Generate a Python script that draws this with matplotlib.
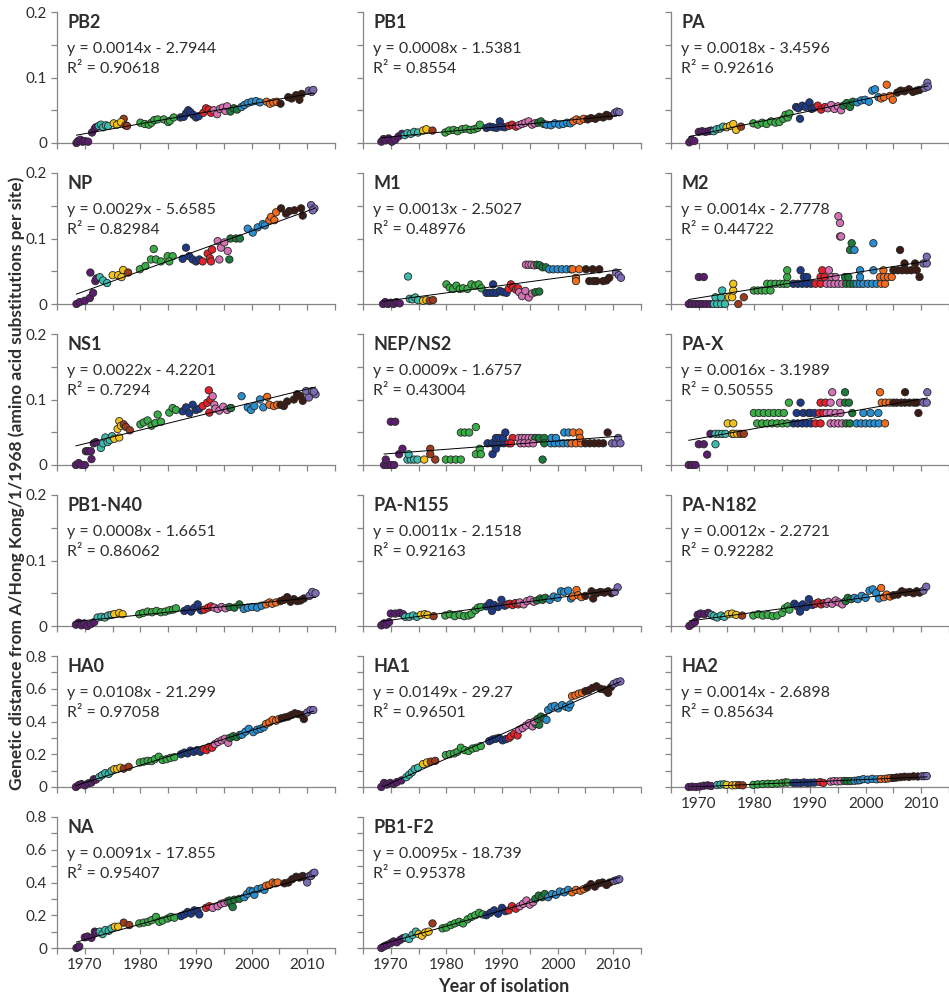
"""
Genetic distance from A/Hong Kong/1/1968 per protein, by year of isolation
17 small scatter panels with a linear trendline each
"""

import numpy as np
import matplotlib
matplotlib.use('Agg')
import matplotlib.pyplot as plt
from matplotlib.ticker import MultipleLocator, FuncFormatter

plt.rcParams['font.family'] = ['Lato', 'DejaVu Sans']

# antigenic cluster colours, keyed by the year the cluster starts
cluster_start = [0, 1972.3, 1975.0, 1977.0, 1978.5, 1987.0, 1991.0, 1993.0,
                 1996.0, 1998.0, 2002.5, 2005.0, 2009.8]
cluster_color = ['#5b1e6e', '#3cbcae', '#f3c21a', '#9c3b1e', '#3aad48', '#1e3a87',
                 '#e3232b', '#d372b5', '#1c7a3a', '#2a8fd1', '#f26c1e', '#3a1c14',
                 '#7d6bb6']

panel_names = ['PB2', 'PB1', 'PA', 'NP', 'M1', 'M2', 'NS1', 'NEP/NS2', 'PA-X',
               'PB1-N40', 'PA-N155', 'PA-N182', 'HA0', 'HA1', 'HA2', 'NA', 'PB1-F2']
panel_eq = ['y = 0.0014x - 2.7944', 'y = 0.0008x - 1.5381', 'y = 0.0018x - 3.4596',
            'y = 0.0029x - 5.6585', 'y = 0.0013x - 2.5027', 'y = 0.0014x - 2.7778',
            'y = 0.0022x - 4.2201', 'y = 0.0009x - 1.6757', 'y = 0.0016x - 3.1989',
            'y = 0.0008x - 1.6651', 'y = 0.0011x - 2.1518', 'y = 0.0012x - 2.2721',
            'y = 0.0108x - 21.299', 'y = 0.0149x - 29.27', 'y = 0.0014x - 2.6898',
            'y = 0.0091x - 17.855', 'y = 0.0095x - 18.739']
panel_r2 = ['0.90618', '0.8554', '0.92616', '0.82984', '0.48976', '0.44722',
            '0.7294', '0.43004', '0.50555', '0.86062', '0.92163', '0.92282',
            '0.97058', '0.96501', '0.85634', '0.95407', '0.95378']
panel_ymax = [0.2] * 12 + [0.8] * 5

# --- values ---
pb2_year = [1968.5, 1968.8, 1969.2, 1969.6, 1970.0, 1970.6, 1971.3, 1971.8, 1972.0,
            1972.5, 1972.9, 1973.3, 1973.8, 1974.2,
            1975.2, 1975.8, 1977.0, 1976.5, 1977.3, 1977.6,
            1980.0, 1980.8, 1981.5, 1982.0, 1982.5, 1983.1, 1984.2, 1985.0, 1985.3, 1986.0,
            1987.2, 1987.8, 1988.2, 1988.6, 1989.0, 1989.5, 1990.0, 1990.5,
            1991.3, 1991.8, 1992.3, 1992.7,
            1993.2, 1993.8, 1994.3, 1994.8, 1995.3, 1995.6,
            1996.2, 1996.8, 1997.4,
            1998.2, 1998.7, 1999.3, 2000.0, 2000.8, 2001.5,
            2002.7, 2003.3, 2003.9, 2004.5,
            2005.2, 2006.6, 2007.2, 2008.0, 2008.6, 2009.0,
            2010.3, 2010.8, 2011.1]
pb2_dist = [0.000, 0.003, 0.005, 0.002, 0.003, 0.002, 0.016, 0.022, 0.024,
            0.026, 0.028, 0.024, 0.027, 0.026,
            0.030, 0.028, 0.037, 0.032, 0.027, 0.026,
            0.031, 0.029, 0.028, 0.031, 0.035, 0.036, 0.036, 0.032, 0.034, 0.039,
            0.039, 0.040, 0.045, 0.050, 0.047, 0.043, 0.039, 0.041,
            0.046, 0.053, 0.051, 0.046,
            0.050, 0.044, 0.052, 0.054, 0.049, 0.056,
            0.048, 0.053, 0.051,
            0.055, 0.058, 0.061, 0.063, 0.064, 0.062,
            0.063, 0.060, 0.062, 0.063,
            0.060, 0.070, 0.068, 0.073, 0.066, 0.075,
            0.080, 0.078, 0.081]

pb1_year = [1968.3, 1968.7, 1969.1, 1969.6, 1970.2, 1970.8, 1971.4, 1972.0,
            1972.5, 1973.0, 1973.6, 1974.2, 1974.9,
            1975.8, 1976.4, 1977.5,
            1979.8, 1980.5, 1981.3, 1982.0, 1982.8, 1983.5, 1984.3, 1985.0, 1985.6, 1986.0,
            1987.2, 1987.8, 1988.4, 1989.0, 1989.6, 1989.9, 1990.5,
            1991.2, 1991.8, 1992.5, 1993.0,
            1993.6, 1994.2, 1994.8, 1995.4, 1995.9,
            1996.5, 1997.0, 1997.5,
            1998.0, 1998.8, 1999.5, 2000.3, 2001.0, 2001.7, 2002.3,
            2002.8, 2003.4, 2004.0, 2004.7,
            2005.4, 2006.0, 2006.8, 2007.5, 2008.2, 2008.8, 2009.3,
            2010.3, 2010.7, 2011.1]
pb1_dist = [0.002, 0.006, 0.004, 0.007, 0.002, 0.005, 0.010, 0.014,
            0.012, 0.015, 0.014, 0.017, 0.016,
            0.019, 0.021, 0.019,
            0.016, 0.019, 0.020, 0.018, 0.021, 0.022, 0.020, 0.021, 0.023, 0.028,
            0.023, 0.025, 0.024, 0.023, 0.033, 0.025, 0.024,
            0.026, 0.028, 0.025, 0.027,
            0.029, 0.031, 0.033, 0.028, 0.030,
            0.031, 0.033, 0.029,
            0.028, 0.027, 0.030, 0.028, 0.029, 0.031, 0.030,
            0.033, 0.036, 0.034, 0.037,
            0.036, 0.038, 0.037, 0.040, 0.039, 0.043, 0.041,
            0.046, 0.048, 0.047]

pa_year = [1968.3, 1968.7, 1969.2, 1970.0, 1970.6, 1971.2, 1971.8, 1972.2,
           1972.7, 1973.2, 1973.8, 1974.4, 1975.0,
           1975.6, 1976.2, 1976.7, 1977.6,
           1979.8, 1980.6, 1981.4, 1982.2, 1983.0, 1983.8, 1984.5, 1985.2, 1985.6, 1986.0, 1986.3,
           1987.5, 1987.9, 1988.2, 1988.6, 1989.2, 1989.9, 1990.3,
           1990.8, 1991.4, 1992.0, 1992.7,
           1993.2, 1993.8, 1994.4, 1995.0, 1995.6,
           1996.0, 1996.6, 1997.2, 1997.7,
           1998.5, 1999.2, 1999.9, 2000.6, 2001.2, 2001.7, 2002.3,
           2002.8, 2003.3, 2003.8, 2004.4, 2004.9,
           2005.7, 2006.3, 2007.0, 2007.8, 2008.5, 2009.2, 2009.7,
           2010.6, 2011.1, 2011.2]
pa_dist = [0.001, 0.005, 0.003, 0.017, 0.018, 0.017, 0.018, 0.019,
           0.018, 0.021, 0.022, 0.025, 0.024,
           0.026, 0.029, 0.020, 0.025,
           0.030, 0.028, 0.031, 0.029, 0.033, 0.031, 0.032, 0.037, 0.043, 0.039, 0.045,
           0.055, 0.053, 0.037, 0.057, 0.055, 0.062, 0.052,
           0.054, 0.057, 0.051, 0.055,
           0.053, 0.058, 0.052, 0.056, 0.050,
           0.057, 0.061, 0.055, 0.063,
           0.062, 0.065, 0.066, 0.063, 0.080, 0.082, 0.070,
           0.068, 0.070, 0.089, 0.072, 0.066,
           0.077, 0.080, 0.079, 0.082, 0.078, 0.080, 0.081,
           0.084, 0.092, 0.086]

np_year = [1968.5, 1969.1, 1970.0, 1970.9, 1971.5, 1971.0, 1971.9, 1972.1,
           1972.7, 1973.3, 1974.0, 1975.0,
           1976.0, 1976.9, 1976.6,
           1977.8,
           1979.9, 1980.9, 1982.4, 1981.9, 1982.8, 1983.7, 1984.9, 1985.8, 1985.2,
           1987.6, 1988.2, 1988.8, 1989.4, 1990.0, 1990.6,
           1991.2, 1992.1, 1992.5, 1992.9,
           1992.7, 1993.9, 1994.5, 1995.1, 1995.7, 1994.2,
           1996.0, 1996.2, 1997.2, 1997.9,
           1999.3, 2000.2, 2001.1, 2002.0, 2002.4,
           2003.2, 2003.5, 2004.1, 2004.4,
           2005.3, 2006.2, 2006.8, 2007.7, 2008.9, 2009.2,
           2010.7, 2011.3, 2011.0]
np_dist = [0.000, 0.003, 0.005, 0.009, 0.017, 0.048, 0.035, 0.039,
           0.041, 0.036, 0.032, 0.044,
           0.044, 0.052, 0.041,
           0.048,
           0.053, 0.058, 0.084, 0.068, 0.068, 0.065, 0.073, 0.073, 0.065,
           0.069, 0.086, 0.073, 0.068, 0.065, 0.068,
           0.065, 0.077, 0.070, 0.083,
           0.065, 0.096, 0.086, 0.094, 0.081, 0.068,
           0.068, 0.100, 0.100, 0.100,
           0.115, 0.109, 0.117, 0.122, 0.120,
           0.128, 0.133, 0.128, 0.140,
           0.146, 0.138, 0.142, 0.143, 0.146, 0.135,
           0.151, 0.146, 0.143]

m1_year = [1968.6, 1969.0, 1969.5, 1970.0, 1970.5, 1971.0, 1971.6,
           1973.1, 1973.4, 1973.9, 1974.4, 1974.9,
           1975.8, 1976.4, 1977.0, 1977.6,
           1980.0, 1980.6, 1981.2, 1981.8, 1982.4, 1983.0, 1983.8, 1984.5, 1985.2, 1985.8, 1986.3,
           1987.2, 1987.8, 1988.4, 1988.4, 1989.0, 1989.6, 1990.2, 1990.8,
           1991.2, 1991.6, 1992.0, 1992.5, 1992.9,
           1993.1, 1993.6, 1994.2, 1994.8, 1995.4, 1996.0, 1996.7,
           1994.3, 1994.8, 1995.3, 1995.8, 1996.3, 1996.8,
           1997.3, 1997.9,
           1998.5, 1999.2, 2000.0, 2000.8, 2001.6, 2002.4,
           2002.7, 2003.3, 2003.3, 2003.9,
           2005.1, 2005.7, 2006.3, 2006.5, 2007.0, 2007.5, 2008.2, 2008.8, 2009.3,
           2010.5, 2011.0, 2011.4]
m1_dist = [0.000, 0.003, 0.000, 0.002, 0.000, 0.003, 0.001,
           0.042, 0.008, 0.007, 0.010, 0.006,
           0.005, 0.006, 0.005, 0.006,
           0.030, 0.025, 0.023, 0.028, 0.023, 0.024, 0.023, 0.030, 0.028, 0.030, 0.024,
           0.017, 0.017, 0.030, 0.017, 0.017, 0.020, 0.018, 0.017,
           0.023, 0.030, 0.026, 0.022, 0.024,
           0.018, 0.012, 0.020, 0.010, 0.016, 0.018, 0.019,
           0.060, 0.060, 0.060, 0.059, 0.060, 0.059,
           0.056, 0.056,
           0.053, 0.053, 0.053, 0.053, 0.053, 0.053,
           0.053, 0.040, 0.035, 0.053,
           0.053, 0.035, 0.053, 0.035, 0.035, 0.053, 0.035, 0.036, 0.040,
           0.048, 0.044, 0.040]

m2_year = [1968.2, 1968.8, 1969.4, 1970.0, 1970.6, 1971.3, 1972.0, 1970.0, 1970.9,
           1972.7, 1973.3, 1974.0, 1974.7, 1973.0, 1974.0, 1974.2,
           1975.4, 1976.0, 1976.2, 1976.2, 1977.1,
           1978.1,
           1979.9, 1980.6, 1981.3, 1982.0, 1982.9, 1982.3, 1983.0, 1983.8, 1984.6, 1985.3,
           1985.9, 1985.9, 1985.9,
           1987.0, 1987.8, 1988.6, 1989.4, 1990.2, 1991.0, 1991.9, 1988.3, 1988.9, 1989.5,
           1992.2, 1991.9, 1992.6, 1993.0,
           1993.4, 1993.7, 1994.4, 1995.1, 1995.8, 1996.5, 1997.2, 1997.8, 1993.9, 1994.6,
           1995.4, 1995.4, 1995.6,
           1995.1, 1996.3, 1996.9, 1997.2, 1997.5, 1998.0,
           1998.4, 1999.0, 1999.6, 2000.4, 2001.2, 2002.0, 2002.8, 2003.5, 1999.0, 1999.0,
           2001.4, 2001.4, 2003.2,
           2002.6, 2003.3, 2004.0, 2004.7,
           2005.0, 2005.8, 2006.6, 2007.4, 2008.2, 2009.2, 2006.2, 2007.0, 2008.9, 2009.7,
           2010.4, 2011.0, 2011.0]
m2_dist = [0, 0, 0, 0, 0, 0, 0, 0.0412, 0.0412,
           0, 0, 0, 0, 0.0103, 0.0103, 0.0206,
           0.0103, 0.0103, 0.0206, 0.0309, 0,
           0.0103,
           0.0206, 0.0206, 0.0206, 0.0206, 0.0206, 0.0309, 0.0309, 0.0309, 0.0309, 0.0309,
           0.0309, 0.0412, 0.0515,
           0.0309, 0.0309, 0.0309, 0.0309, 0.0309, 0.0309, 0.0309, 0.0515, 0.0412, 0.0412,
           0.0515, 0.0412, 0.0412, 0.0309,
           0.0515, 0.0309, 0.0309, 0.0309, 0.0309, 0.0309, 0.0309, 0.0309, 0.0412, 0.0412,
           0.1237, 0.1031, 0.1031,
           0.134, 0.0412, 0.0412, 0.0825, 0.0928, 0.0825,
           0.0309, 0.0309, 0.0309, 0.0309, 0.0309, 0.0309, 0.0309, 0.0309, 0.0412, 0.0515,
           0.0928, 0.0515, 0.0515,
           0.0412, 0.0412, 0.0412, 0.0412,
           0.0515, 0.0515, 0.0515, 0.0515, 0.0515, 0.0515, 0.0825, 0.0619, 0.0619, 0.0412,
           0.0619, 0.0619, 0.0722]

ns1_year = [1968.4, 1968.9, 1969.4, 1970.0, 1970.2, 1971.2, 1970.6, 1971.1, 1971.6, 1972.0,
            1972.9, 1973.3, 1973.7, 1974.1, 1974.5, 1974.9, 1975.3,
            1975.9, 1976.2, 1976.5, 1977.0, 1977.4,
            1976.2, 1978.1,
            1980.0, 1980.6, 1981.3, 1982.0, 1982.7, 1983.1, 1983.7, 1985.2, 1985.8, 1986.4,
            1987.6, 1988.2, 1988.8, 1989.4, 1990.0, 1990.6, 1991.2,
            1992.0, 1992.3, 1992.6, 1993.0, 1993.3,
            1992.4, 1993.5, 1994.2, 1994.9, 1995.6, 1996.2,
            1996.3, 1998.2,
            1999.3, 1999.9, 2000.5, 2001.5, 2002.1, 2003.2, 2004.0,
            2002.8, 2004.6, 2005.2, 2005.8,
            2006.4, 2007.6, 2008.2, 2008.8, 2009.2, 2009.8, 2010.3,
            2010.9, 2011.5, 2011.2]
ns1_dist = [0.000, 0.003, 0.000, 0.000, 0.021, 0.009, 0.021, 0.021, 0.033, 0.035,
            0.026, 0.033, 0.042, 0.035, 0.038, 0.044, 0.040,
            0.055, 0.067, 0.060, 0.062, 0.058,
            0.042, 0.053,
            0.062, 0.065, 0.068, 0.060, 0.064, 0.077, 0.066, 0.080, 0.087, 0.084,
            0.082, 0.088, 0.079, 0.092, 0.084, 0.086, 0.090,
            0.095, 0.114, 0.100, 0.105, 0.092,
            0.080, 0.086, 0.083, 0.089, 0.084, 0.087,
            0.087, 0.105,
            0.088, 0.084, 0.090, 0.100, 0.088, 0.092, 0.090,
            0.104, 0.092, 0.092, 0.090,
            0.097, 0.100, 0.108, 0.105, 0.098, 0.113, 0.103,
            0.113, 0.108, 0.112]

nep_year = [1968.8, 1969.4, 1970.0, 1970.6, 1969.1, 1970.0, 1970.8, 1971.5, 1972.1,
            1973.0, 1973.6, 1974.2, 1974.8, 1973.2,
            1976.0, 1977.1, 1977.1,
            1978.0,
            1979.9, 1980.8, 1981.7, 1982.6, 1982.6, 1983.3, 1984.1, 1985.3, 1985.3, 1986.0, 1986.2,
            1987.4, 1988.3, 1988.2, 1989.0, 1989.6, 1990.3, 1988.9, 1989.5, 1990.2, 1988.9,
            1990.6, 1991.2, 1991.9, 1991.6,
            1993.0, 1993.6, 1994.2, 1994.8, 1995.4, 1996.0, 1996.7, 1993.3, 1994.0, 1994.8, 1995.6,
            1997.6, 1997.3, 1997.6,
            1998.8, 1999.5, 2000.3, 2001.0, 2001.8, 2002.5, 2001.2, 2002.0, 2002.8, 2003.9,
            1998.9, 1999.7,
            2003.3, 2004.2, 2004.0,
            2005.0, 2005.8, 2006.6, 2007.4, 2008.2, 2009.0, 2009.8,
            2010.4, 2010.9, 2011.3]
nep_dist = [0, 0, 0, 0, 0.0083, 0.0661, 0.0661, 0.0165, 0.0248,
            0.0083, 0.0083, 0.0083, 0.0083, 0.0165,
            0.0083, 0.0248, 0.0165,
            0.0083,
            0.0083, 0.0083, 0.0083, 0.0083, 0.0496, 0.0496, 0.0496, 0.0579, 0.0165, 0.0248, 0.0165,
            0.0331, 0.0165, 0.0331, 0.0331, 0.0331, 0.0331, 0.0413, 0.0413, 0.0413, 0.0248,
            0.0496, 0.0331, 0.0413, 0.0331,
            0.0413, 0.0413, 0.0413, 0.0413, 0.0413, 0.0413, 0.0413, 0.0331, 0.0331, 0.0331, 0.0331,
            0.0413, 0.0083, 0.0331,
            0.0331, 0.0331, 0.0331, 0.0331, 0.0331, 0.0331, 0.0496, 0.0496, 0.0496, 0.0496,
            0.0413, 0.0413,
            0.0331, 0.0331, 0.0413,
            0.0331, 0.0331, 0.0331, 0.0331, 0.0331, 0.0496, 0.0331,
            0.0331, 0.0413, 0.0331]

pax_year = [1968.2, 1968.8, 1969.4, 1970.0, 1970.9, 1971.5, 1972.1,
            1973.0, 1973.0, 1973.6, 1974.2, 1974.8, 1975.2, 1976.0,
            1976.2, 1976.3, 1976.9, 1977.5,
            1978.1,
            1979.9, 1980.8, 1981.7, 1982.6, 1983.5, 1984.4, 1985.3, 1980.5, 1981.4, 1982.3,
            1983.2, 1984.1, 1985.0, 1985.9, 1986.2,
            1987.0, 1987.8, 1988.6, 1989.4, 1990.2, 1991.0, 1991.9, 1988.3, 1987.6, 1988.8, 1989.8,
            1990.0, 1990.8, 1991.7, 1992.4, 1993.0, 1991.9, 1992.8, 1993.7,
            1994.0, 1995.4, 1993.7, 1994.4, 1995.1, 1995.8, 1996.5, 1993.7, 1994.6, 1995.5,
            1996.3, 1996.3, 1997.0, 1997.2, 1997.6,
            1998.4, 1999.2, 2000.0, 2000.8, 2001.6, 2002.4, 2003.5, 1999.6, 2000.9, 2002.3,
            2002.6, 2002.9, 2003.6, 2004.3, 2005.0,
            2005.6, 2006.4, 2007.1, 2007.1, 2007.9, 2008.7, 2009.2, 2009.5,
            2010.4, 2011.0, 2011.1]
pax_dist = [0, 0, 0, 0.0317, 0.0317, 0.0159, 0.0476,
            0.0317, 0.0476, 0.0476, 0.0476, 0.0476, 0.0635, 0.0476,
            0.0635, 0.0476, 0.0476, 0.0476,
            0.0476,
            0.0794, 0.0794, 0.0794, 0.0794, 0.0794, 0.0794, 0.0794, 0.0635, 0.0635, 0.0635,
            0.0635, 0.0635, 0.0635, 0.0635, 0.0952,
            0.0635, 0.0635, 0.0635, 0.0635, 0.0635, 0.0635, 0.0635, 0.0952, 0.0794, 0.0794, 0.0794,
            0.0794, 0.0794, 0.0794, 0.0794, 0.0794, 0.0952, 0.0952, 0.0952,
            0.1111, 0.0952, 0.0635, 0.0635, 0.0635, 0.0635, 0.0635, 0.0794, 0.0794, 0.0794,
            0.1111, 0.0952, 0.0952, 0.0635, 0.0794,
            0.0635, 0.0635, 0.0635, 0.0635, 0.0635, 0.0635, 0.0635, 0.0794, 0.0794, 0.0794,
            0.1111, 0.0952, 0.0952, 0.0952, 0.0952,
            0.0952, 0.0952, 0.1111, 0.0952, 0.0952, 0.0952, 0.0952, 0.0794,
            0.0952, 0.0952, 0.1111]

n40_year = [1968.4, 1968.9, 1969.4, 1969.9, 1970.5, 1971.1, 1971.7, 1972.3,
            1973.0, 1973.6, 1974.2, 1974.8, 1975.3,
            1976.2, 1976.8,
            1979.8, 1980.5, 1981.3, 1982.1, 1982.9, 1983.7, 1984.5, 1985.2, 1985.9, 1986.4,
            1987.9, 1988.5, 1989.1, 1989.7, 1990.3, 1990.9,
            1991.5, 1992.2, 1992.7,
            1993.3, 1993.9, 1994.6, 1995.3, 1996.0, 1996.9,
            1997.8,
            1998.6, 1999.3, 2000.1, 2001.0, 2001.8,
            2002.6, 2003.2, 2003.7, 2004.4, 2005.2,
            2005.8, 2006.4, 2007.0, 2007.6, 2008.2, 2008.8, 2009.4,
            2010.4, 2010.9, 2011.5]
n40_dist = [0.002, 0.005, 0.001, 0.004, 0.000, 0.003, 0.006, 0.013,
            0.014, 0.013, 0.016, 0.017, 0.018,
            0.020, 0.018,
            0.018, 0.020, 0.022, 0.021, 0.023, 0.021, 0.022, 0.024, 0.025, 0.027,
            0.023, 0.026, 0.022, 0.028, 0.033, 0.024,
            0.025, 0.028, 0.030,
            0.028, 0.026, 0.029, 0.027, 0.029, 0.028,
            0.033,
            0.026, 0.028, 0.029, 0.028, 0.031,
            0.033, 0.036, 0.034, 0.036, 0.038,
            0.040, 0.044, 0.037, 0.041, 0.038, 0.039, 0.042,
            0.046, 0.052, 0.050]

n155_year = [1968.3, 1968.8, 1969.2, 1969.7, 1970.0, 1970.8, 1971.6, 1972.2,
             1972.6, 1973.3, 1974.0, 1974.7, 1975.4,
             1976.1, 1976.6, 1977.7,
             1979.8, 1980.6, 1981.5, 1982.4, 1983.2, 1984.0, 1984.5, 1985.2, 1985.7, 1986.2,
             1987.2, 1987.8, 1988.2, 1988.6, 1989.3, 1989.9, 1990.5, 1991.0,
             1991.4, 1991.9, 1992.4, 1992.9,
             1993.2, 1993.9, 1994.5, 1995.1, 1995.7, 1996.3,
             1996.9, 1997.3, 1997.8,
             1998.6, 1999.3, 2000.0, 2000.6, 2001.2, 2001.9, 2002.4,
             2002.7, 2003.4, 2003.7, 2004.3, 2005.0,
             2006.1, 2006.4, 2007.0, 2007.7, 2008.4, 2009.1, 2009.7,
             2010.3, 2010.8]
n155_dist = [0.001, 0.004, 0.002, 0.006, 0.019, 0.019, 0.020, 0.018,
             0.014, 0.014, 0.016, 0.014, 0.017,
             0.018, 0.017, 0.015,
             0.016, 0.018, 0.015, 0.017, 0.015, 0.016, 0.018, 0.024, 0.028, 0.029,
             0.030, 0.035, 0.023, 0.032, 0.029, 0.040, 0.031, 0.033,
             0.034, 0.032, 0.035, 0.033,
             0.036, 0.033, 0.038, 0.040, 0.037, 0.039,
             0.042, 0.040, 0.043,
             0.040, 0.045, 0.043, 0.053, 0.052, 0.054, 0.042,
             0.045, 0.055, 0.047, 0.044, 0.046,
             0.053, 0.042, 0.050, 0.052, 0.051, 0.053, 0.050,
             0.052, 0.059]

n182_year = [1968.3, 1968.8, 1969.3, 1969.8, 1970.3, 1971.0, 1971.7, 1972.3,
             1972.7, 1973.3, 1974.0, 1974.6, 1975.3,
             1976.0, 1976.7, 1977.8,
             1979.8, 1980.7, 1981.5, 1982.4, 1983.3, 1984.1, 1985.0, 1985.5, 1986.0, 1986.3,
             1987.2, 1987.7, 1988.2, 1988.7, 1989.3, 1989.8, 1990.4, 1991.0,
             1991.5, 1992.0, 1992.5, 1993.0,
             1993.3, 1994.0, 1994.6, 1995.2, 1995.8, 1996.4,
             1996.8, 1997.4, 1998.0,
             1998.6, 1999.3, 2000.0, 2000.7, 2001.3, 2001.9, 2002.4,
             2002.8, 2003.3, 2003.8, 2004.4, 2005.0,
             2005.8, 2006.5, 2007.2, 2007.9, 2008.6, 2009.2, 2009.7,
             2010.4, 2010.9]
n182_dist = [0.000, 0.003, 0.006, 0.017, 0.019, 0.018, 0.020, 0.017,
             0.015, 0.013, 0.016, 0.014, 0.018,
             0.019, 0.017, 0.016,
             0.016, 0.018, 0.016, 0.017, 0.015, 0.016, 0.020, 0.027, 0.030, 0.025,
             0.034, 0.030, 0.022, 0.033, 0.029, 0.041, 0.032, 0.034,
             0.036, 0.033, 0.035, 0.034,
             0.037, 0.034, 0.039, 0.036, 0.033, 0.038,
             0.043, 0.041, 0.043,
             0.041, 0.046, 0.043, 0.054, 0.056, 0.050, 0.042,
             0.058, 0.044, 0.048, 0.045, 0.047,
             0.048, 0.053, 0.051, 0.052, 0.050, 0.053, 0.051,
             0.054, 0.060]

ha0_year = [1968.4, 1968.9, 1969.4, 1970.0, 1970.6, 1971.2, 1971.6, 1972.0,
            1972.6, 1973.1, 1973.7, 1974.3, 1974.8, 1975.3,
            1975.8, 1976.4, 1977.0,
            1977.9,
            1979.9, 1980.6, 1981.3, 1982.0, 1982.6, 1983.3, 1984.0, 1984.7, 1985.4, 1986.1,
            1987.3, 1987.9, 1988.5, 1989.0, 1989.6, 1990.2, 1990.8, 1991.4,
            1991.9, 1992.4, 1992.9,
            1993.4, 1994.0, 1994.6, 1995.2, 1995.8,
            1996.1, 1996.7, 1997.3, 1997.9,
            1998.3, 1998.9, 1999.5, 2000.3, 2001.0, 2001.6, 2002.2,
            2002.6, 2003.2, 2003.8, 2004.4, 2004.9,
            2005.4, 2006.0, 2006.6, 2007.2, 2007.8, 2008.4, 2009.0, 2009.4,
            2010.0, 2010.6, 2011.1]
ha0_dist = [0.000, 0.012, 0.018, 0.010, 0.022, 0.027, 0.047, 0.045,
            0.060, 0.072, 0.085, 0.080, 0.098, 0.109,
            0.110, 0.118, 0.112,
            0.123,
            0.150, 0.155, 0.160, 0.158, 0.170, 0.185, 0.165, 0.170, 0.178, 0.182,
            0.200, 0.210, 0.205, 0.222, 0.215, 0.225, 0.215, 0.230,
            0.225, 0.245, 0.240,
            0.262, 0.275, 0.285, 0.295, 0.270,
            0.300, 0.310, 0.305, 0.318,
            0.320, 0.338, 0.355, 0.335, 0.350, 0.355, 0.365,
            0.385, 0.395, 0.410, 0.405, 0.415,
            0.420, 0.425, 0.430, 0.440, 0.450, 0.445, 0.440, 0.415,
            0.455, 0.470, 0.470]

ha1_year = [1968.3, 1968.8, 1969.3, 1969.9, 1970.5, 1971.1, 1971.9,
            1972.8, 1973.3, 1973.8, 1974.3, 1974.9,
            1975.8, 1976.5, 1977.2,
            1978.0,
            1979.9, 1980.6, 1981.4, 1982.0, 1982.6, 1983.3, 1984.0, 1984.7, 1985.4, 1986.2,
            1987.7, 1988.3, 1988.9, 1989.5, 1990.1, 1990.7, 1991.3,
            1991.6, 1992.2, 1992.8,
            1993.1, 1993.7, 1994.3, 1994.9, 1995.5, 1996.1, 1996.7,
            1995.8, 1996.4, 1997.0, 1997.6, 1998.0,
            1998.3, 1998.9, 1999.5, 2000.1, 2000.8, 2001.5, 2002.0, 2002.3,
            2002.6, 2003.2, 2003.8, 2004.4,
            2005.0, 2005.6, 2006.3, 2007.0, 2007.7, 2008.4, 2009.1, 2009.6,
            2010.1, 2010.7, 2011.3]
ha1_dist = [0.000, 0.025, 0.015, 0.025, 0.018, 0.030, 0.040,
            0.060, 0.075, 0.090, 0.110, 0.118,
            0.140, 0.150, 0.155,
            0.160,
            0.195, 0.200, 0.205, 0.215, 0.240, 0.225, 0.220, 0.235, 0.240, 0.250,
            0.280, 0.290, 0.295, 0.300, 0.285, 0.292, 0.300,
            0.310, 0.325, 0.315,
            0.350, 0.360, 0.375, 0.390, 0.370, 0.385, 0.380,
            0.400, 0.415, 0.430, 0.420, 0.410,
            0.470, 0.490, 0.495, 0.480, 0.500, 0.490, 0.485, 0.505,
            0.555, 0.560, 0.570, 0.575,
            0.585, 0.590, 0.605, 0.615, 0.600, 0.595, 0.575, 0.610,
            0.630, 0.640, 0.645]

ha2_year = [1968.2, 1968.8, 1969.5, 1970.2, 1970.9, 1971.6, 1972.2,
            1973.3, 1973.9, 1974.5, 1975.0,
            1976.0, 1976.6, 1977.2, 1977.9,
            1979.8, 1980.6, 1981.5, 1982.4, 1983.2, 1984.1, 1985.0, 1985.6, 1986.0,
            1987.0, 1987.6, 1988.3, 1988.9, 1989.5, 1990.1, 1990.8,
            1991.8, 1992.4,
            1993.7, 1994.3, 1994.9, 1995.5, 1996.2, 1996.7,
            1997.3, 1998.0, 1998.6,
            1999.0, 1999.6, 2000.4, 2001.2, 2002.0, 2002.7, 2003.5,
            2004.0, 2004.5, 2005.0,
            2005.6, 2006.3, 2007.0, 2007.8, 2008.6, 2009.4,
            2010.2, 2010.6, 2011.0]
ha2_dist = [0.000, 0.002, 0.000, 0.003, 0.008, 0.010, 0.006,
            0.012, 0.015, 0.016, 0.013,
            0.010, 0.011, 0.012, 0.010,
            0.013, 0.016, 0.018, 0.020, 0.019, 0.022, 0.025, 0.028, 0.027,
            0.025, 0.026, 0.024, 0.028, 0.025, 0.026, 0.027,
            0.030, 0.025,
            0.033, 0.036, 0.034, 0.035, 0.037, 0.036,
            0.036, 0.038, 0.040,
            0.042, 0.048, 0.045, 0.050, 0.047, 0.049, 0.050,
            0.052, 0.055, 0.055,
            0.058, 0.060, 0.063, 0.062, 0.065, 0.064,
            0.066, 0.066, 0.067]

na_year = [1968.5, 1968.8, 1969.0, 1970.0, 1970.5, 1971.2, 1971.8, 1972.0,
           1972.7, 1973.2, 1973.7, 1974.3, 1974.8, 1975.4,
           1976.0, 1977.0,
           1978.0,
           1979.8, 1980.6, 1981.4, 1982.0, 1982.8, 1983.4, 1984.0, 1984.9, 1985.5, 1986.1,
           1987.3, 1987.9, 1988.5, 1989.1, 1989.7, 1990.3, 1990.6,
           1991.8, 1992.4, 1993.0,
           1993.9, 1994.5, 1995.1, 1995.7, 1996.3, 1996.6,
           1996.0, 1996.9, 1997.8,
           1998.7, 1999.2, 1999.7, 2000.2, 2000.5, 2001.1, 2001.8, 2002.3,
           2002.6, 2003.2, 2003.8, 2004.3, 2004.7,
           2005.9, 2006.6, 2007.3, 2008.0, 2008.6, 2009.2, 2009.6, 2010.0, 2010.4,
           2010.7, 2011.0, 2011.3]
na_dist = [0.000, 0.005, 0.010, 0.065, 0.070, 0.062, 0.100, 0.095,
           0.100, 0.085, 0.110, 0.105, 0.120, 0.130,
           0.130, 0.155,
           0.140,
           0.150, 0.155, 0.160, 0.170, 0.190, 0.160, 0.168, 0.180, 0.190, 0.185,
           0.195, 0.205, 0.220, 0.210, 0.230, 0.225, 0.205,
           0.245, 0.255, 0.245,
           0.255, 0.270, 0.275, 0.285, 0.270, 0.250,
           0.290, 0.295, 0.300,
           0.310, 0.330, 0.350, 0.345, 0.325, 0.360, 0.365, 0.355,
           0.380, 0.385, 0.400, 0.395, 0.400,
           0.395, 0.400, 0.420, 0.435, 0.430, 0.440, 0.430, 0.400, 0.440,
           0.440, 0.455, 0.460]

pb1f2_year = [1968.3, 1968.8, 1969.3, 1969.9, 1970.5, 1971.1, 1971.7, 1972.2,
              1972.7, 1973.3, 1973.9, 1974.5, 1975.0,
              1975.6, 1976.2, 1976.8,
              1977.5,
              1979.3, 1980.0, 1980.8, 1981.5, 1982.3, 1983.0, 1983.8, 1984.5, 1985.2, 1985.9, 1986.5,
              1987.2, 1987.9, 1988.6, 1989.3, 1990.0, 1990.6,
              1991.2, 1991.8, 1992.5,
              1993.2, 1993.8, 1994.4, 1995.0, 1995.6,
              1996.0, 1996.6, 1997.2, 1997.7,
              1998.3, 1999.0, 1999.7, 2000.4, 2001.2, 2001.9,
              2002.6, 2003.3, 2004.1, 2004.7,
              2005.3, 2006.0, 2006.7, 2007.4, 2008.1, 2008.8, 2009.4,
              2010.2, 2010.7, 2011.1]
pb1f2_dist = [0.000, 0.010, 0.018, 0.028, 0.040, 0.035, 0.050, 0.060,
              0.065, 0.055, 0.080, 0.100, 0.085,
              0.075, 0.095, 0.100,
              0.150,
              0.120, 0.125, 0.140, 0.150, 0.160, 0.150, 0.175, 0.190, 0.200, 0.215, 0.205,
              0.200, 0.215, 0.230, 0.210, 0.245, 0.225,
              0.230, 0.255, 0.240,
              0.255, 0.270, 0.290, 0.265, 0.280,
              0.300, 0.320, 0.310, 0.330,
              0.310, 0.330, 0.325, 0.345, 0.340, 0.355,
              0.340, 0.355, 0.350, 0.360,
              0.370, 0.390, 0.375, 0.395, 0.400, 0.385, 0.400,
              0.410, 0.415, 0.420]

panel_years = [pb2_year, pb1_year, pa_year, np_year, m1_year, m2_year, ns1_year,
               nep_year, pax_year, n40_year, n155_year, n182_year, ha0_year,
               ha1_year, ha2_year, na_year, pb1f2_year]
panel_dists = [pb2_dist, pb1_dist, pa_dist, np_dist, m1_dist, m2_dist, ns1_dist,
               nep_dist, pax_dist, n40_dist, n155_dist, n182_dist, ha0_dist,
               ha1_dist, ha2_dist, na_dist, pb1f2_dist]

# layout of the panel grid, in pixels of the 949x999 figure
FIG_W, FIG_H = 949, 999
COL_LEFT = [57, 363, 671]
ROW_TOP = [12, 173, 334, 495, 656, 817]
AX_W, AX_H = 278, 131

SPINE_COLOR = '#858585'
TEXT_COLOR = '#2e2e2e'


def point_colors(years):
    """Colour each isolate by the antigenic cluster of its year"""
    idx = np.searchsorted(cluster_start, years, side='right') - 1
    return [cluster_color[i] for i in idx]


def y_label_fmt(v, pos):
    return '0' if abs(v) < 1e-9 else f'{v:g}'


def draw_panel(fig, i):
    """One protein panel: scatter, trendline, equation"""
    row, col = divmod(i, 3)
    left = COL_LEFT[col] / FIG_W
    bottom = 1 - (ROW_TOP[row] + AX_H) / FIG_H
    ax = fig.add_axes([left, bottom, AX_W / FIG_W, AX_H / FIG_H])

    years = np.array(panel_years[i])
    dists = np.array(panel_dists[i])
    ymax = panel_ymax[i]

    ax.scatter(years, dists, s=28, c=point_colors(years), edgecolors='#262626',
               linewidths=0.6, zorder=3, clip_on=False)

    # linear trendline over the data span
    slope, icpt = np.polyfit(years, dists, 1)
    xs = np.array([years.min(), years.max()])
    ax.plot(xs, slope * xs + icpt, color='black', lw=0.7, zorder=4)

    ax.set_xlim(1965, 2015)
    ax.set_ylim(0, ymax)

    # axes styling
    for side in ['top', 'right']:
        ax.spines[side].set_visible(False)
    for side in ['left', 'bottom']:
        ax.spines[side].set_color(SPINE_COLOR)
        ax.spines[side].set_linewidth(0.9)

    ax.xaxis.set_major_locator(MultipleLocator(10))
    ax.xaxis.set_minor_locator(MultipleLocator(5))
    ax.yaxis.set_major_locator(MultipleLocator(ymax / 2 if ymax < 0.5 else 0.2))
    ax.yaxis.set_minor_locator(MultipleLocator(ymax / 4 if ymax < 0.5 else 0.1))
    ax.yaxis.set_major_formatter(FuncFormatter(y_label_fmt))
    ax.tick_params(which='both', direction='out', length=4, width=0.9,
                   color=SPINE_COLOR, labelcolor=TEXT_COLOR, labelsize=11, pad=3)

    if col != 0:
        ax.tick_params(axis='y', labelleft=False)
    if i not in (14, 15, 16):
        ax.tick_params(axis='x', labelbottom=False)

    # panel title and Excel-style equation
    ax.text(0.036, 0.88, panel_names[i], transform=ax.transAxes, fontsize=13,
            fontweight='bold', color=TEXT_COLOR, va='baseline')
    ax.text(0.036, 0.685, panel_eq[i], transform=ax.transAxes, fontsize=11.5,
            color=TEXT_COLOR, va='baseline')
    ax.text(0.036, 0.532, 'R\u00b2 = ' + panel_r2[i], transform=ax.transAxes,
            fontsize=11.5, color=TEXT_COLOR, va='baseline')
    return ax


def main():
    fig = plt.figure(figsize=(FIG_W / 100, FIG_H / 100), dpi=100)

    for i in range(len(panel_names)):
        draw_panel(fig, i)

    # shared axis labels
    fig.text(17 / FIG_W, 1 - 483 / FIG_H,
             'Genetic distance from A/Hong Kong/1/1968 (amino acid substitutions per site)',
             rotation=90, ha='center', va='center', fontsize=12.5, fontweight='bold',
             color=TEXT_COLOR)
    fig.text(504 / FIG_W, 1 - 987 / FIG_H, 'Year of isolation', ha='center',
             va='center', fontsize=13, fontweight='bold', color=TEXT_COLOR)

    fig.savefig('out.png', dpi=100)


if __name__ == "__main__":
    main()
